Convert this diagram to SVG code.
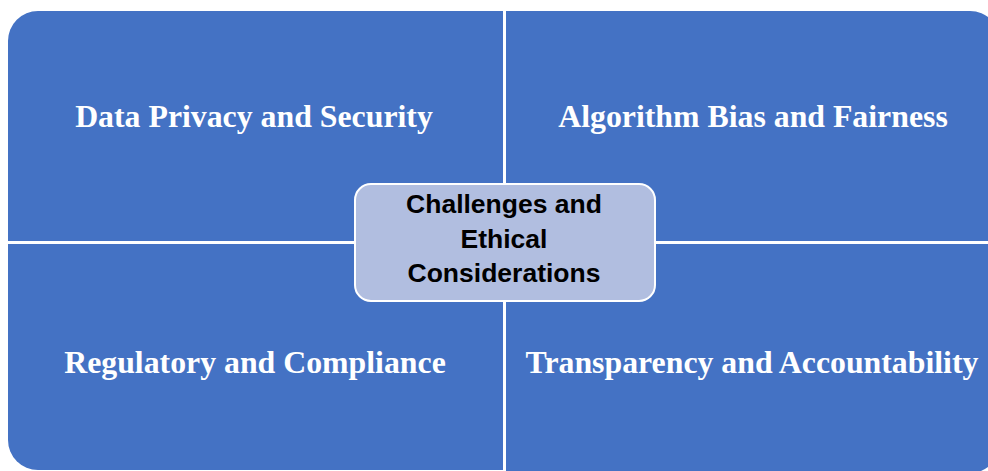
<svg xmlns="http://www.w3.org/2000/svg" width="988" height="471" viewBox="0 0 988 471">
  <style>
    .quad { fill: #4472C4; }
    .quad-label { font-family: "Liberation Serif", "Times New Roman", serif; font-weight: bold; font-size: 31.8px; fill: #FFFFFF; text-anchor: middle; }
    .hub { fill: #B1BEE0; stroke: #FFFFFF; stroke-width: 2; }
    .hub-label { font-family: "Liberation Sans", Arial, sans-serif; font-weight: bold; font-size: 26.5px; fill: #000000; text-anchor: middle; }
  </style>
  <rect width="988" height="471" fill="#FFFFFF"/>

  <!-- four quadrants, outer corners rounded -->
  <g id="quad-data-privacy">
    <path class="quad" d="M8,41 A30,30 0 0 1 38,11 L503,11 L503,241 L8,241 Z"/>
    <text class="quad-label" x="254" y="127">Data Privacy and Security</text>
  </g>
  <g id="quad-algorithm-bias">
    <path class="quad" d="M506,11 L970,11 A30,30 0 0 1 1000,41 L1000,241 L506,241 Z"/>
    <text class="quad-label" x="753" y="127">Algorithm Bias and Fairness</text>
  </g>
  <g id="quad-regulatory">
    <path class="quad" d="M8,244 L503,244 L503,470 L38,470 A30,30 0 0 1 8,440 Z"/>
    <text class="quad-label" x="255" y="373">Regulatory and Compliance</text>
  </g>
  <g id="quad-transparency">
    <path class="quad" d="M506,244 L1000,244 L1000,443 A30,30 0 0 1 970,473 L506,473 Z"/>
    <text class="quad-label" x="752" y="373">Transparency and Accountability</text>
  </g>

  <!-- central hub -->
  <g id="hub">
    <rect class="hub" x="355" y="184" width="300" height="117" rx="16" ry="16"/>
    <text class="hub-label" x="504" y="213">Challenges and</text>
    <text class="hub-label" x="504" y="248">Ethical</text>
    <text class="hub-label" x="504" y="282">Considerations</text>
  </g>

  <g id="connectors"/>
</svg>
